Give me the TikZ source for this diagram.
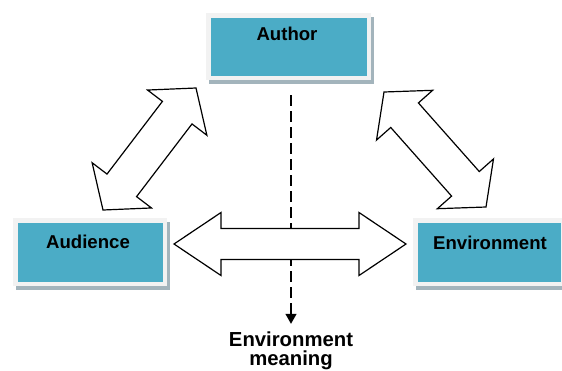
\documentclass[tikz,border=0pt]{standalone}
\usepackage{fontspec}
\setmainfont{Liberation Sans}
\usetikzlibrary{calc,arrows.meta,shadows}
\definecolor{boxteal}{HTML}{4BACC6}
\definecolor{framegray}{HTML}{F2F2F2}
\definecolor{shadowgray}{HTML}{A3B4BC}
\newcommand\fatarrow[5]{% #1 tip A, #2 tip B, #3 shaft half width, #4 head half width, #5 head length
  \coordinate (#1h) at ($(#1)!#5!(#2)$);
  \coordinate (#2h) at ($(#2)!#5!(#1)$);
  \draw[fatstyle] (#1)
    -- ($(#1h)!#4!90:(#2)$) -- ($(#1h)!#3!90:(#2)$)
    -- ($(#2h)!#3!-90:(#1)$) -- ($(#2h)!#4!-90:(#1)$)
    -- (#2)
    -- ($(#2h)!#4!90:(#1)$) -- ($(#2h)!#3!90:(#1)$)
    -- ($(#1h)!#3!-90:(#2)$) -- ($(#1h)!#4!-90:(#2)$)
    -- cycle;}
\begin{document}
\begin{tikzpicture}[x=1pt,y=-1pt,
  boxframe/.style={fill=framegray, inner sep=0pt, outer sep=0pt,
    drop shadow={shadow xshift=3pt, shadow yshift=-4pt, fill=shadowgray, opacity=1},
    path picture={\fill[boxteal] ([shift={(4.5pt,-4.5pt)}]path picture bounding box.north west)
      rectangle ([shift={(-4.5pt,4.5pt)}]path picture bounding box.south east);}},
  boxlabel/.style={anchor=base, inner sep=0pt, font=\bfseries\fontsize{18.6}{20}\selectfont},
  fatstyle/.style={draw=black, fill=white, line width=1.2pt, line join=miter},
  dashline/.style={draw=black, line width=1.3pt, dash pattern=on 11pt off 5pt,
    -{Triangle[width=11pt,length=10pt]}}]
\useasboundingbox (0,0) rectangle (562,370);
% boxes
\node[boxframe, minimum width=165pt, minimum height=67pt] (author) at (288.5,46.5) {};
\node[boxframe, minimum width=154pt, minimum height=68pt] (audience) at (90,252) {};
\node[boxframe, minimum width=152pt, minimum height=68pt] (environment) at (489,252) {};
\node[boxlabel] (authorlbl) at (287,40) {Author};
\node[boxlabel] (audiencelbl) at (88,248.3) {Audience};
\node[boxlabel] (environmentlbl) at (490,249) {Environment};
% bottom label
\node[anchor=north, inner sep=0pt, outer sep=0pt, align=center,
  font=\bfseries\fontsize{20.3}{19.5}\selectfont] (meaning) at (291,331.5) {Environment\\meaning};
% dashed line
\draw[dashline, shorten <=15pt, shorten >=7.7pt] (author.south -| meaning.north) -- (meaning.north);
% fat double arrows
\coordinate (lA) at (196,88);
\coordinate (lB) at (103,210);
\coordinate (rA) at (384,92);
\coordinate (rB) at (486,207);
\coordinate (hA) at (174,244);
\coordinate (hB) at (406,244);
\fatarrow{lA}{lB}{18.6pt}{37.3pt}{31pt}
\fatarrow{rA}{rB}{18.5pt}{37.5pt}{31pt}
\fatarrow{hA}{hB}{15.5pt}{31.5pt}{47pt}
\end{tikzpicture}
\end{document}
